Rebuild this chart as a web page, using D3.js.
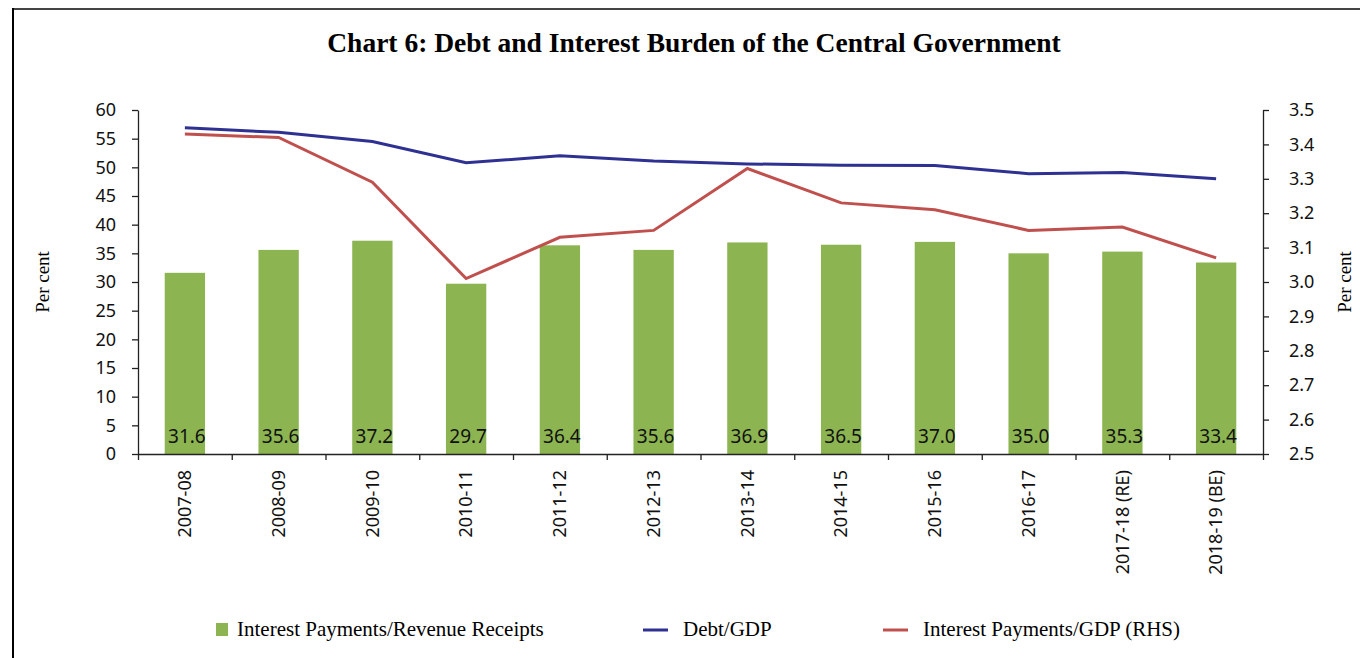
<!DOCTYPE html>
<html>
<head>
<meta charset="utf-8">
<script src="https://cdn.jsdelivr.net/npm/d3@7"></script>
<style>
  body { margin: 0; background: #fff; }
  svg { display: block; }
  .tick text { fill: #111; }
</style>
</head>
<body>
<script>
var w = 1360;
var h = 658;

// data
var years = ['2007-08', '2008-09', '2009-10', '2010-11', '2011-12', '2012-13',
  '2013-14', '2014-15', '2015-16', '2016-17', '2017-18 (RE)', '2018-19 (BE)'];
var ipRevenue = [31.6, 35.6, 37.2, 29.7, 36.4, 35.6, 36.9, 36.5, 37.0, 35.0, 35.3, 33.4];
var debtGdp = [56.9, 56.1, 54.5, 50.8, 52.0, 51.1, 50.6, 50.35, 50.3, 48.9, 49.1, 48.0];
var ipGdp = [3.43, 3.42, 3.29, 3.01, 3.13, 3.15, 3.33, 3.23, 3.21, 3.15, 3.16, 3.07];
var leftTicks = d3.range(0, 61, 5);
var rightTicks = d3.range(25, 36).map((d) => d / 10);

// plot area (window.top is taken, so no plain "top")
var plotL = 138, plotR = 1263, plotT = 110, plotB = 454;

var x = d3.scaleBand()
  .domain(years)
  .range([plotL, plotR])
  .paddingInner(0.57)
  .paddingOuter(0.285);

var xEdge = d3.scaleLinear()
  .domain([0, years.length])
  .range([plotL, plotR]);

var y = d3.scaleLinear().domain([0, 60]).range([plotB, plotT]);
var y2 = d3.scaleLinear().domain([2.5, 3.5]).range([plotB, plotT]);

var cx = (d) => x(d) + x.bandwidth() / 2;

var svg = d3.select('body').append('svg')
  .attr('width', w)
  .attr('height', h);

// frame
svg.append('line')
  .attr('x1', 13).attr('x2', w).attr('y1', 9).attr('y2', 9)
  .attr('stroke', '#444').attr('stroke-width', 2);
svg.append('line')
  .attr('x1', 13).attr('x2', 13).attr('y1', 8).attr('y2', h)
  .attr('stroke', '#000').attr('stroke-width', 2);

svg.append('text')
  .attr('x', 694)
  .attr('y', 52)
  .attr('text-anchor', 'middle')
  .style('font-family', '"Liberation Serif", serif')
  .style('font-weight', 'bold')
  .style('font-size', '27.5px')
  .text('Chart 6: Debt and Interest Burden of the Central Government');

// bars
svg.append('g').selectAll('rect')
  .data(years)
  .join('rect')
  .attr('x', (d) => x(d))
  .attr('width', x.bandwidth())
  .attr('y', (d, i) => y(ipRevenue[i]))
  .attr('height', (d, i) => plotB - y(ipRevenue[i]))
  .attr('fill', '#8CB551');

svg.append('g').selectAll('text')
  .data(years)
  .join('text')
  .attr('x', (d) => cx(d) + 2)
  .attr('y', 443)
  .attr('text-anchor', 'middle')
  .style('font-family', '"Noto Sans", sans-serif')
  .style('font-size', '19px')
  .attr('fill', '#111')
  .text((d, i) => ipRevenue[i].toFixed(1));

// lines
var debtLine = d3.line()
  .x((d, i) => cx(years[i]))
  .y((d) => y(d));
var ipLine = d3.line()
  .x((d, i) => cx(years[i]))
  .y((d) => y2(d));

svg.append('path')
  .datum(debtGdp)
  .attr('d', debtLine)
  .attr('fill', 'none')
  .attr('stroke', '#2E3192')
  .attr('stroke-width', 3);

svg.append('path')
  .datum(ipGdp)
  .attr('d', ipLine)
  .attr('fill', 'none')
  .attr('stroke', '#C0504D')
  .attr('stroke-width', 3);

// axes
var axisFont = (g) => g.selectAll('text')
  .style('font-family', '"Noto Sans", sans-serif')
  .style('font-size', '18px');

svg.append('g')
  .attr('transform', `translate(${plotL},0)`)
  .call(d3.axisLeft(y).tickValues(leftTicks).tickSize(6).tickPadding(16).tickSizeOuter(0))
  .call(axisFont);

svg.append('g')
  .attr('transform', `translate(${plotR},0)`)
  .call(d3.axisRight(y2).tickValues(rightTicks).tickFormat(d3.format('.1f')).tickSize(6).tickPadding(20).tickSizeOuter(0))
  .call(axisFont);

svg.append('g')
  .attr('transform', `translate(0,${plotB})`)
  .call(d3.axisBottom(xEdge).tickValues(d3.range(years.length + 1)).tickFormat('').tickSize(6).tickSizeOuter(0));

svg.append('g')
  .attr('transform', `translate(0,${plotB})`)
  .call(d3.axisBottom(x).tickSize(0).tickPadding(0))
  .call((g) => g.select('.domain').remove())
  .selectAll('text')
  .attr('transform', 'rotate(-90)')
  .attr('x', -16)
  .attr('y', 0)
  .attr('dy', '0.35em')
  .attr('text-anchor', 'end')
  .style('font-family', '"Noto Sans", sans-serif')
  .style('font-size', '18px');

svg.selectAll('.domain, .tick line')
  .attr('stroke', '#222')
  .attr('stroke-width', 1.3);

// axis titles
svg.append('text')
  .attr('transform', 'translate(49,282) rotate(-90)')
  .attr('text-anchor', 'middle')
  .style('font-family', '"Liberation Serif", serif')
  .style('font-size', '19px')
  .text('Per cent');

svg.append('text')
  .attr('transform', 'translate(1351,282) rotate(-90)')
  .attr('text-anchor', 'middle')
  .style('font-family', '"Liberation Serif", serif')
  .style('font-size', '19px')
  .text('Per cent');

// legend
var legend = [
  { label: 'Interest Payments/Revenue Receipts', color: '#8CB551', type: 'rect', x: 216 },
  { label: 'Debt/GDP', color: '#2E3192', type: 'line', x: 643 },
  { label: 'Interest Payments/GDP (RHS)', color: '#C0504D', type: 'line', x: 883 }
];

var lg = svg.append('g').selectAll('g')
  .data(legend)
  .join('g')
  .attr('transform', (d) => `translate(${d.x},630)`);

lg.filter((d) => d.type === 'rect')
  .append('rect')
  .attr('x', 0).attr('y', -7).attr('width', 12).attr('height', 13)
  .attr('fill', (d) => d.color);

lg.filter((d) => d.type === 'line')
  .append('line')
  .attr('x1', 0).attr('x2', 25).attr('y1', 0).attr('y2', 0)
  .attr('stroke', (d) => d.color)
  .attr('stroke-width', 3);

lg.append('text')
  .attr('x', (d) => d.type === 'rect' ? 21 : 40)
  .attr('y', 6)
  .style('font-family', '"Liberation Serif", serif')
  .style('font-size', '21px')
  .text((d) => d.label);
</script>
</body>
</html>
